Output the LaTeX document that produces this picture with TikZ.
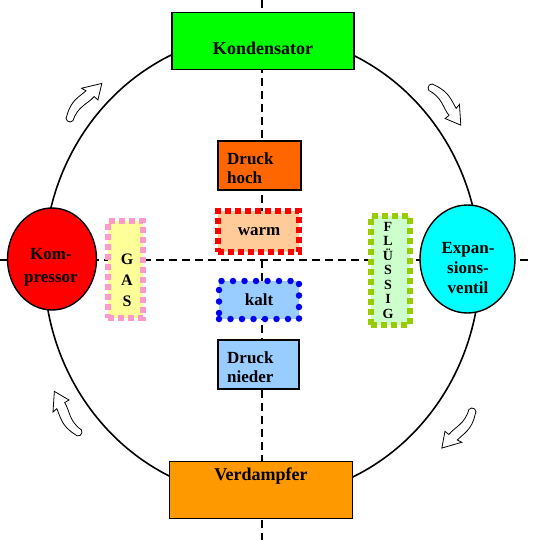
\documentclass[tikz,border=0pt]{standalone}
\usepackage{fontspec}
\setmainfont{Liberation Serif}
\usetikzlibrary{shapes.geometric}
\definecolor{kgreen}{HTML}{00FF00}
\definecolor{vorange}{HTML}{FF9900}
\definecolor{dhoch}{HTML}{FF6600}
\definecolor{dnieder}{HTML}{99CCFF}
\definecolor{warmfill}{HTML}{FFCC99}
\definecolor{warmline}{HTML}{FF0000}
\definecolor{kaltfill}{HTML}{99CCFF}
\definecolor{kaltline}{HTML}{0000EE}
\definecolor{gasfill}{HTML}{FFFF99}
\definecolor{gasline}{HTML}{FF99CC}
\definecolor{flfill}{HTML}{CCFFCC}
\definecolor{flline}{HTML}{99CC00}
\definecolor{kompred}{HTML}{FF0000}
\definecolor{expcyan}{HTML}{00FFFF}
\begin{document}
\begin{tikzpicture}[x=1pt,y=-1pt,
  box/.style={draw=black, line width=1.4pt, rectangle, inner sep=0pt},
  ell/.style={draw=black, line width=1.4pt, ellipse, inner sep=0pt},
  axisline/.style={line width=2.6pt, dash pattern=on 8pt off 5pt},
  sqborder/.style={rectangle, inner sep=0pt, line width=6pt, dash pattern=on 6pt off 4pt},
  dotborder/.style={rectangle, inner sep=0pt, line width=6.5pt, line cap=round, dash pattern=on 0pt off 11.5pt},
  big/.style={font=\fontsize{18}{21}\selectfont\bfseries, inner sep=0pt},
  mid/.style={font=\fontsize{17}{19}\selectfont\bfseries, inner sep=0pt},
  flowarr/.pic={\draw[line width=0.8pt, fill=white]
     (0,-4) .. controls (14,-11) and (22,-7) .. (31,-6) -- (30,-11) -- (47,1) -- (32,9) -- (32,4)
     .. controls (22,4) and (14,-2) .. (0,4) arc[start angle=90, end angle=270, radius=4] -- cycle;}
]
\useasboundingbox (0,0) rectangle (539,540);
% main cycle
\draw[line width=1.6pt] (262,266) ellipse [x radius=218, y radius=232];
% axes
\coordinate (vt) at (262,0);
\coordinate (vb) at (262,540);
\coordinate (hl) at (0,260);
\coordinate (hr) at (530,260);
\draw[axisline] (vt) -- (vb);
\draw[axisline] (hl) -- (hr);
% boxes
\node[box, fill=kgreen, minimum width=182pt, minimum height=57pt] (kond) at (263,41) {};
\node[big] (kondt) at (263,48) {Kondensator};
\node[box, fill=vorange, minimum width=183pt, minimum height=57pt] (verd) at (261,490) {};
\node[big] (verdt) at (261,476) {Verdampfer};
\node[box, fill=dhoch, minimum width=83pt, minimum height=49pt] (dh) at (259.5,165.5) {};
\node[mid, align=left, anchor=west] (dht) at (227,168) {Druck\\hoch};
\node[box, fill=dnieder, minimum width=81pt, minimum height=49pt] (dn) at (258.5,364.5) {};
\node[mid, align=left, anchor=west] (dnt) at (227,367) {Druck\\nieder};
% warm / kalt
\node[sqborder, draw=warmline, fill=warmfill, minimum width=81pt, minimum height=41pt] (warm) at (258.5,231.5) {};
\node[mid] (warmt) at (259,232) {warm};
\node[dotborder, draw=kaltline, fill=kaltfill, minimum width=80pt, minimum height=38pt] (kalt) at (259,300) {};
\node[mid] (kaltt) at (259,300) {kalt};
% GAS / FLUESSIG
\node[sqborder, draw=gasline, fill=gasfill, minimum width=35pt, minimum height=97pt] (gas) at (125.5,269.5) {};
\node[font=\fontsize{16}{21}\selectfont\bfseries, inner sep=0pt, align=center] (gast) at (127,280) {G\\A\\S};
\node[sqborder, draw=flline, fill=flfill, minimum width=39pt, minimum height=109pt] (fl) at (390.5,270.5) {};
\node[font=\fontsize{14}{14.5}\selectfont\bfseries, inner sep=0pt, align=center] (flt) at (388,270) {F\\L\\Ü\\S\\S\\I\\G};
% compressor, valve
\node[ell, fill=kompred, minimum width=89pt, minimum height=102pt] (komp) at (52,259) {};
\node[font=\fontsize{17}{23}\selectfont\bfseries, inner sep=0pt, align=center] (kompt) at (51,267) {Kom-\\pressor};
\node[ell, fill=expcyan, minimum width=95pt, minimum height=108pt] (exp) at (467.5,259) {};
\node[font=\fontsize{17}{20}\selectfont\bfseries, inner sep=0pt, align=center] (expt) at (468,268) {Expan-\\sions-\\ventil};
% flow arrows
\pic[rotate=48.6] at (70,118) {flowarr};
\pic[rotate=-51] at (432,88) {flowarr};
\pic[rotate=-128.7] at (472,412) {flowarr};
\pic[rotate=121.4] at (78,432) {flowarr};
\end{tikzpicture}
\end{document}
